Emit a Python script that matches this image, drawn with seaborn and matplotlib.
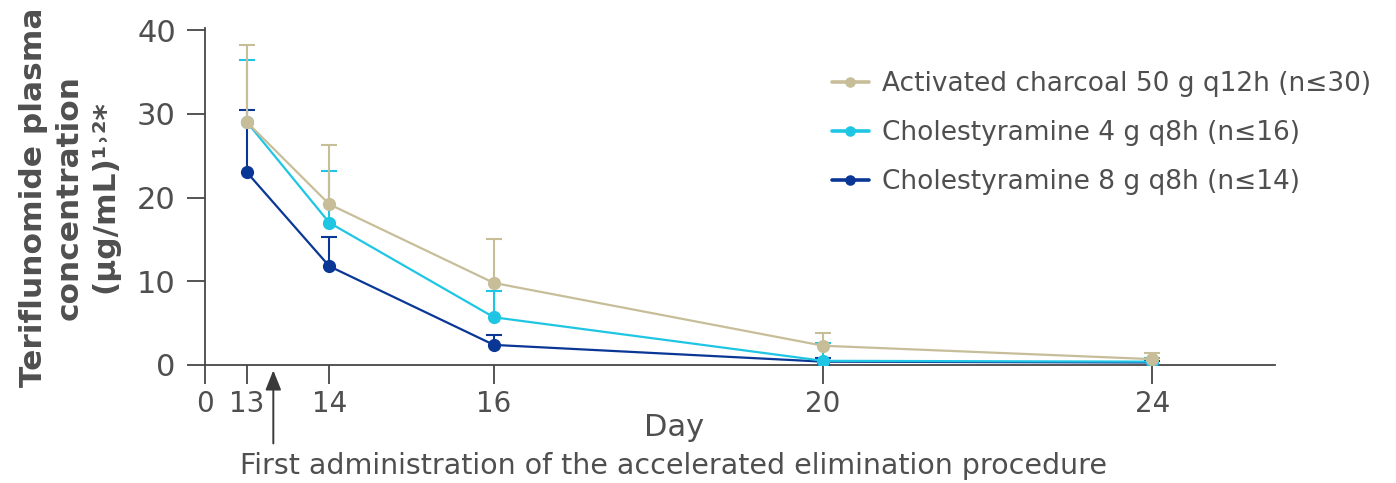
import matplotlib
matplotlib.use("Agg")
import matplotlib.pyplot as plt
import seaborn as sns
import pandas as pd
import numpy as np

# Sampling days and mean teriflunomide concentrations (µg/mL) with upper SD
days = [13, 14, 16, 20, 24]
series_names = [
    "Activated charcoal 50 g q12h (n≤30)",
    "Cholestyramine 4 g q8h (n≤16)",
    "Cholestyramine 8 g q8h (n≤14)",
]
charcoal_mean = [29.0, 19.2, 9.8, 2.3, 0.7]
charcoal_upper = [38.2, 26.3, 15.0, 3.8, 1.4]
chol4_mean = [29.0, 17.0, 5.7, 0.5, 0.4]
chol4_upper = [36.4, 23.2, 8.8, 2.6, 0.8]
chol8_mean = [23.0, 11.8, 2.4, 0.4, 0.3]
chol8_upper = [30.4, 15.3, 3.6, 0.8, 0.5]

xtick_labels = ["0", "13", "14", "16", "20", "24"]
colors = ["#C7BE99", "#1EC6E4", "#0A3796"]

means = [charcoal_mean, chol4_mean, chol8_mean]
uppers = [charcoal_upper, chol4_upper, chol8_upper]

df = pd.DataFrame({
    "Day": days * 3,
    "Concentration": charcoal_mean + chol4_mean + chol8_mean,
    "Group": sum([[n] * len(days) for n in series_names], []),
})

sns.set_theme(style="white")
plt.rcParams["font.family"] = ["DejaVu Sans"]

text_grey = "#4f4f4f"
axis_grey = "#474747"

fig = plt.figure(figsize=(13.96, 4.83), dpi=100)
ax = fig.add_axes([205 / 1396, 118 / 483, (1275 - 205) / 1396, (365 - 28) / 483])

x_zero = 12.49  # the broken-axis "0" sits just left of day 13

# draw from back to front: 8 g, 4 g, charcoal
for i in [2, 1, 0]:
    sub = df[df["Group"] == series_names[i]]
    err_up = np.array(uppers[i]) - np.array(means[i])
    eb = ax.errorbar(days, means[i], yerr=[np.zeros(len(days)), err_up], fmt="none",
                     ecolor=colors[i], elinewidth=1.5, capsize=5.8, capthick=1.5,
                     zorder=2 + (2 - i))
    # only the upper caps are shown
    eb[1][0].set_visible(False)
    sns.lineplot(data=sub, x="Day", y="Concentration", ax=ax, color=colors[i],
                 marker="o", markersize=9.5, markeredgewidth=0, linewidth=1.6,
                 label=series_names[i], zorder=3 + (2 - i))

ax.set_xlim(x_zero, 25.49)
ax.set_ylim(0, 40.25)
ax.set_xticks([x_zero] + days)
ax.set_xticklabels(xtick_labels)
ax.set_yticks([0, 10, 20, 30, 40])

for side in ["top", "right"]:
    ax.spines[side].set_visible(False)
for side in ["left", "bottom"]:
    ax.spines[side].set_color(axis_grey)
    ax.spines[side].set_linewidth(1.3)

ax.tick_params(axis="x", direction="out", length=14, width=1.3, color=axis_grey,
               labelsize=20, labelcolor=text_grey, pad=4, bottom=True)
ax.tick_params(axis="y", direction="out", length=13, width=1.3, color=axis_grey,
               labelsize=22, labelcolor=text_grey, pad=8, left=True)
ax.yaxis.get_major_ticks()[0].tick1line.set_color(colors[2])

ax.set_xlabel("")
ax.set_ylabel("")
ax.grid(False)

fig.text(674 / 1396, 1 - 428 / 483, "Day", ha="center", va="center",
         fontsize=22, color=text_grey)
fig.text(674 / 1396, 1 - 466 / 483,
         "First administration of the accelerated elimination procedure",
         ha="center", va="center", fontsize=20.5, color=text_grey)

fig.text(69 / 1396, 1 - 197 / 483,
         "Teriflunomide plasma\nconcentration\n(µg/mL)¹˒²*",
         rotation=90, ha="center", va="center", multialignment="center",
         fontsize=22.5, fontweight="bold", color=text_grey, linespacing=1.3)

# arrow marking the first dose
ax.annotate("", xy=(13.32, -0.3), xytext=(13.32, -9.7),
            arrowprops=dict(arrowstyle="-|>,head_width=0.4,head_length=1.0",
                            color="#3a3a3a", lw=1.4),
            annotation_clip=False)

handles, labels = ax.get_legend_handles_labels()
order = [labels.index(n) for n in series_names]
leg = ax.legend([handles[k] for k in order], [labels[k] for k in order],
                loc="center left", bbox_to_anchor=(808 / 1396, 1 - 133 / 483),
                bbox_transform=fig.transFigure, frameon=False, fontsize=19,
                handlelength=1.4, handletextpad=0.5, labelspacing=0.88,
                markerscale=0.8)
for t in leg.get_texts():
    t.set_color(text_grey)
for h in leg.legend_handles:
    h.set_linewidth(2.6)

fig.savefig("out.png", dpi=100)
